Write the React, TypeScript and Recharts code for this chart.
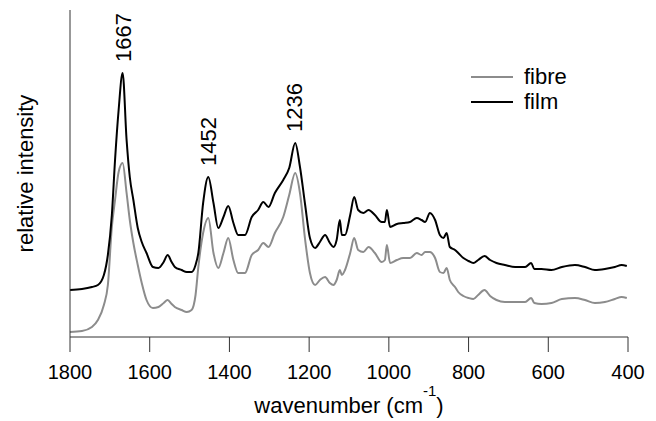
import { LineChart, Line, XAxis, YAxis, Legend, ReferenceDot, Label } from 'recharts';

// Raman spectra (arbitrary intensity units)
const wavenumbers = [
	1800, 1770, 1745, 1730, 1715, 1705, 1695, 1687, 1678, 1668, 1658, 1650, 1641, 1630, 1620, 1608,
	1592, 1578, 1565, 1555, 1545, 1537, 1520, 1507, 1495, 1485, 1478, 1466, 1453, 1440, 1428, 1415,
	1403, 1390, 1378, 1361, 1344, 1328, 1315, 1302, 1286, 1265, 1250, 1235, 1223, 1210, 1198, 1185,
	1173, 1160, 1148, 1139, 1131, 1123, 1118, 1110, 1097, 1087, 1077, 1064, 1051, 1035, 1018, 1010,
	1005, 997, 980, 964, 947, 930, 918, 909, 897, 884, 872, 863, 855, 847, 834, 826,
	813, 800, 788, 776, 760, 746, 730, 709, 683, 658, 643, 635, 617, 592, 566, 533,
	508, 483, 458, 433, 416, 403,
];

const fibre = [
	5, 6, 10, 17, 32, 52, 110, 137, 165, 174, 144, 117, 94, 72, 54, 37,
	29, 30, 34, 37, 33, 30, 27, 25, 27, 42, 70, 104, 119, 84, 69, 84,
	99, 77, 64, 64, 82, 87, 94, 90, 104, 120, 142, 164, 144, 97, 64, 52,
	57, 60, 54, 52, 57, 67, 62, 67, 84, 99, 87, 85, 90, 84, 75, 77,
	92, 74, 77, 79, 79, 84, 82, 85, 85, 79, 65, 64, 69, 57, 50, 45,
	41, 39, 38, 42, 47, 41, 37, 35, 35, 35, 39, 34, 33, 34, 38, 39,
	37, 34, 35, 38, 40, 39,
];

const film = [
	47, 48, 50, 52, 62, 82, 122, 177, 227, 264, 197, 160, 137, 109, 95, 84,
	70, 69, 75, 82, 75, 70, 67, 65, 65, 72, 84, 134, 160, 134, 109, 120,
	131, 114, 102, 102, 120, 127, 135, 130, 144, 157, 169, 194, 170, 132, 99, 89,
	95, 102, 94, 90, 97, 117, 102, 102, 122, 140, 127, 124, 127, 122, 115, 115,
	127, 110, 113, 114, 115, 119, 117, 115, 124, 117, 102, 99, 104, 90, 87, 84,
	79, 76, 74, 77, 81, 77, 74, 72, 70, 70, 74, 68, 68, 67, 70, 72,
	70, 67, 68, 70, 72, 71,
];

const xTicks = [1800, 1600, 1400, 1200, 1000, 800, 600, 400];
const peaks = [1667, 1452, 1236];

const data = wavenumbers.map((w, i) => ({ wavenumber: w, fibre: fibre[i], film: film[i] }));

const font = '"Liberation Sans", Arial, Helvetica, sans-serif';

// film intensity at the sample closest to a given wavenumber
function filmAt(w: number) {
	let best = 0;
	wavenumbers.forEach((v, i) => {
		if (Math.abs(v - w) < Math.abs(wavenumbers[best] - w)) best = i;
	});
	return film[best];
}

function SpectrumLegend({ payload }: any) {
	return (
		<div style={{ fontFamily: font, fontSize: 22 }}>
			{(payload || []).map((entry: any) => (
				<div
					key={entry.value}
					style={{ display: 'flex', alignItems: 'center', height: 25, lineHeight: '25px' }}>
					<svg width={42} height={4} style={{ display: 'block' }}>
						<line x1={0} y1={2} x2={42} y2={2} stroke={entry.color} strokeWidth={2} />
					</svg>
					<span style={{ marginLeft: 11, color: '#000' }}>{entry.value}</span>
				</div>
			))}
		</div>
	);
}

export default function App() {
	return (
		<div style={{ position: 'absolute', left: 0, top: 0, background: '#fff' }}>
			<LineChart
				width={656}
				height={421}
				data={data}
				margin={{ top: 10, right: 28, left: 60, bottom: 0 }}>
				<XAxis
					type='number'
					dataKey='wavenumber'
					domain={[400, 1800]}
					reversed
					ticks={xTicks}
					height={84}
					tickSize={15}
					tickMargin={13}
					stroke='#333'
					tick={{ fontSize: 20, fill: '#000', fontFamily: font }}>
					<Label
						content={({ viewBox }: any) => (
							<text
								x={viewBox.x + viewBox.width / 2}
								y={viewBox.y + 76}
								textAnchor='middle'
								fontSize={22}
								fontFamily={font}
								fill='#000'>
								<tspan>wavenumber (cm</tspan>
								<tspan dy={-17} fontSize={15}>
									-1
								</tspan>
								<tspan dy={17}>)</tspan>
							</text>
						)}
					/>
				</XAxis>
				<YAxis
					type='number'
					domain={[0, 327]}
					width={10}
					tick={false}
					tickLine={false}
					stroke='#333'>
					<Label
						content={({ viewBox }: any) => {
							const x = viewBox.x + viewBox.width - 37;
							const y = viewBox.y + viewBox.height / 2;
							return (
								<text
									x={x}
									y={y}
									transform={`rotate(-90 ${x} ${y})`}
									textAnchor='middle'
									fontSize={22}
									fontFamily={font}
									fill='#000'>
									relative intensity
								</text>
							);
						}}
					/>
				</YAxis>
				<Legend
					layout='vertical'
					align='center'
					verticalAlign='middle'
					content={<SpectrumLegend />}
					wrapperStyle={{ left: 471, top: 64, width: 120 }}
				/>
				<Line
					type='monotone'
					dataKey='fibre'
					name='fibre'
					stroke='#8c8c8c'
					strokeWidth={2}
					dot={false}
					isAnimationActive={false}
				/>
				<Line
					type='monotone'
					dataKey='film'
					name='film'
					stroke='#000'
					strokeWidth={2}
					dot={false}
					isAnimationActive={false}
				/>
				{peaks.map((w) => (
					<ReferenceDot
						key={w}
						x={w}
						y={filmAt(w)}
						r={1}
						shape={(p: any) => {
							const x = p.cx;
							const y = p.cy - 11;
							return (
								<text
									x={x}
									y={y}
									dy='0.35em'
									transform={`rotate(-90 ${x} ${y})`}
									textAnchor='start'
									fontSize={22}
									fontFamily={font}
									fill='#000'>
									{w}
								</text>
							);
						}}
					/>
				))}
			</LineChart>
		</div>
	);
}
